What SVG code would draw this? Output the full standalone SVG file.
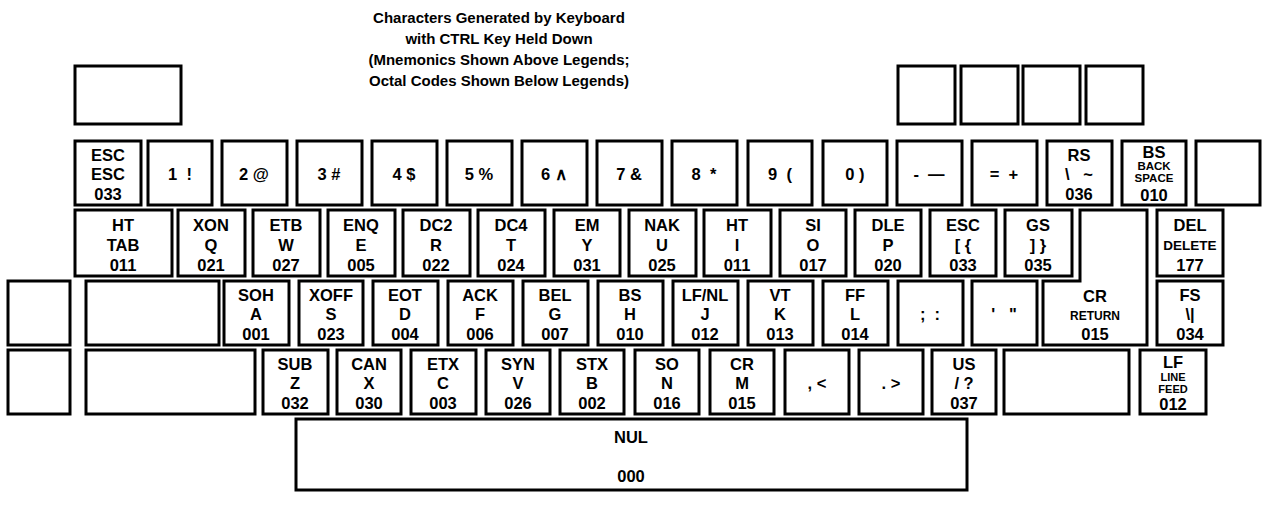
<svg xmlns="http://www.w3.org/2000/svg" width="1267" height="519" viewBox="0 0 1267 519">
<style>
.k{fill:#fff;stroke:#000;stroke-width:3}
.t{font-family:"Liberation Sans",Arial,sans-serif;font-weight:bold;font-size:16.5px;text-anchor:middle;fill:#000;white-space:pre}
.s{font-size:12px}
.b{font-size:11.5px}
.d{font-size:13.5px}
.n{font-size:11px}
.h{font-family:"Liberation Sans",Arial,sans-serif;font-weight:bold;font-size:15px;text-anchor:middle;fill:#000}
</style>
<rect width="1267" height="519" fill="#fff"/>
<g id="title">
<text class="h" x="499" y="23">Characters Generated by Keyboard</text>
<text class="h" x="499" y="44">with CTRL Key Held Down</text>
<text class="h" x="499" y="65">(Mnemonics Shown Above Legends;</text>
<text class="h" x="499" y="86">Octal Codes Shown Below Legends)</text>
</g>
<g id="top-keys">
<rect class="k" x="75" y="66" width="106" height="58"/>
<rect class="k" x="898" y="66" width="57" height="58"/>
<rect class="k" x="961" y="66" width="57" height="58"/>
<rect class="k" x="1023" y="66" width="57" height="58"/>
<rect class="k" x="1086" y="66" width="57" height="58"/>
</g>
<g id="row1">
<g id="k-esc"><rect class="k" x="75" y="141" width="66" height="64"/><text class="t" x="108" y="161">ESC</text><text class="t" x="108" y="180">ESC</text><text class="t" x="108" y="200">033</text></g>
<g id="k-1"><rect class="k" x="148" y="141" width="64" height="64"/><text class="t" x="180" y="180">1  !</text></g>
<g id="k-2"><rect class="k" x="222" y="141" width="65" height="64"/><text class="t" x="254" y="180">2 @</text></g>
<g id="k-3"><rect class="k" x="297" y="141" width="65" height="64"/><text class="t" x="329" y="180">3 #</text></g>
<g id="k-4"><rect class="k" x="372" y="141" width="65" height="64"/><text class="t" x="404" y="180">4 $</text></g>
<g id="k-5"><rect class="k" x="447" y="141" width="65" height="64"/><text class="t" x="479" y="180">5 %</text></g>
<g id="k-6"><rect class="k" x="522" y="141" width="65" height="64"/><text class="t" x="554" y="180">6 ∧</text></g>
<g id="k-7"><rect class="k" x="597" y="141" width="65" height="64"/><text class="t" x="629" y="180">7 &amp;</text></g>
<g id="k-8"><rect class="k" x="672" y="141" width="65" height="64"/><text class="t" x="704" y="180">8  *</text></g>
<g id="k-9"><rect class="k" x="748" y="141" width="64" height="64"/><text class="t" x="780" y="180">9  (</text></g>
<g id="k-0"><rect class="k" x="823" y="141" width="64" height="64"/><text class="t" x="855" y="180">0 )</text></g>
<g id="k-minus"><rect class="k" x="897" y="141" width="65" height="64"/><text class="t" x="929" y="180">-  —</text></g>
<g id="k-eq"><rect class="k" x="972" y="141" width="65" height="64"/><text class="t" x="1004" y="180">=  +</text></g>
<g id="k-rs"><rect class="k" x="1047" y="141" width="65" height="64"/><text class="t" x="1079" y="161">RS</text><text class="t" x="1079" y="180">\   ~</text><text class="t" x="1079" y="200">036</text></g>
<g id="k-bs"><rect class="k" x="1122" y="141" width="64" height="64"/><text class="t" x="1154" y="158">BS</text><text class="t b" x="1154" y="170">BACK</text><text class="t b" x="1154" y="182">SPACE</text><text class="t" x="1154" y="201">010</text></g>
<g id="k-blank1"><rect class="k" x="1196" y="141" width="64" height="64"/></g>
</g>
<g id="row2">
<g id="k-tab"><rect class="k" x="75" y="210" width="97" height="66"/><text class="t" x="123" y="231">HT</text><text class="t" x="123" y="251">TAB</text><text class="t" x="123" y="271">011</text></g>
<g id="k-q"><rect class="k" x="178" y="210" width="67" height="66"/><text class="t" x="211" y="231">XON</text><text class="t" x="211" y="251">Q</text><text class="t" x="211" y="271">021</text></g>
<g id="k-w"><rect class="k" x="253" y="210" width="67" height="66"/><text class="t" x="286" y="231">ETB</text><text class="t" x="286" y="251">W</text><text class="t" x="286" y="271">027</text></g>
<g id="k-e"><rect class="k" x="328" y="210" width="67" height="66"/><text class="t" x="361" y="231">ENQ</text><text class="t" x="361" y="251">E</text><text class="t" x="361" y="271">005</text></g>
<g id="k-r"><rect class="k" x="403" y="210" width="67" height="66"/><text class="t" x="436" y="231">DC2</text><text class="t" x="436" y="251">R</text><text class="t" x="436" y="271">022</text></g>
<g id="k-t"><rect class="k" x="478" y="210" width="67" height="66"/><text class="t" x="511" y="231">DC4</text><text class="t" x="511" y="251">T</text><text class="t" x="511" y="271">024</text></g>
<g id="k-y"><rect class="k" x="554" y="210" width="66" height="66"/><text class="t" x="587" y="231">EM</text><text class="t" x="587" y="251">Y</text><text class="t" x="587" y="271">031</text></g>
<g id="k-u"><rect class="k" x="629" y="210" width="67" height="66"/><text class="t" x="662" y="231">NAK</text><text class="t" x="662" y="251">U</text><text class="t" x="662" y="271">025</text></g>
<g id="k-i"><rect class="k" x="704" y="210" width="67" height="66"/><text class="t" x="737" y="231">HT</text><text class="t" x="737" y="251">I</text><text class="t" x="737" y="271">011</text></g>
<g id="k-o"><rect class="k" x="780" y="210" width="66" height="66"/><text class="t" x="813" y="231">SI</text><text class="t" x="813" y="251">O</text><text class="t" x="813" y="271">017</text></g>
<g id="k-p"><rect class="k" x="855" y="210" width="66" height="66"/><text class="t" x="888" y="231">DLE</text><text class="t" x="888" y="251">P</text><text class="t" x="888" y="271">020</text></g>
<g id="k-lbr"><rect class="k" x="930" y="210" width="66" height="66"/><text class="t" x="963" y="231">ESC</text><text class="t" x="963" y="251">[ {</text><text class="t" x="963" y="271">033</text></g>
<g id="k-rbr"><rect class="k" x="1005" y="210" width="67" height="66"/><text class="t" x="1038" y="231">GS</text><text class="t" x="1038" y="251">] }</text><text class="t" x="1038" y="271">035</text></g>
<g id="k-del"><rect class="k" x="1157" y="210" width="66" height="66"/><text class="t" x="1190" y="231">DEL</text><text class="t d" x="1190" y="250">DELETE</text><text class="t" x="1190" y="271">177</text></g>
</g>
<g id="row3">
<g id="k-blank2"><rect class="k" x="8" y="281" width="62" height="64"/></g>
<g id="k-blank3"><rect class="k" x="86" y="281" width="133" height="64"/></g>
<g id="k-a"><rect class="k" x="224" y="281" width="65" height="64"/><text class="t" x="256" y="301">SOH</text><text class="t" x="256" y="320">A</text><text class="t" x="256" y="340">001</text></g>
<g id="k-s"><rect class="k" x="299" y="281" width="64" height="64"/><text class="t" x="331" y="301">XOFF</text><text class="t" x="331" y="320">S</text><text class="t" x="331" y="340">023</text></g>
<g id="k-d"><rect class="k" x="373" y="281" width="65" height="64"/><text class="t" x="405" y="301">EOT</text><text class="t" x="405" y="320">D</text><text class="t" x="405" y="340">004</text></g>
<g id="k-f"><rect class="k" x="448" y="281" width="65" height="64"/><text class="t" x="480" y="301">ACK</text><text class="t" x="480" y="320">F</text><text class="t" x="480" y="340">006</text></g>
<g id="k-g"><rect class="k" x="523" y="281" width="65" height="64"/><text class="t" x="555" y="301">BEL</text><text class="t" x="555" y="320">G</text><text class="t" x="555" y="340">007</text></g>
<g id="k-h"><rect class="k" x="598" y="281" width="65" height="64"/><text class="t" x="630" y="301">BS</text><text class="t" x="630" y="320">H</text><text class="t" x="630" y="340">010</text></g>
<g id="k-j"><rect class="k" x="673" y="281" width="65" height="64"/><text class="t" x="705" y="301">LF/NL</text><text class="t" x="705" y="320">J</text><text class="t" x="705" y="340">012</text></g>
<g id="k-k"><rect class="k" x="748" y="281" width="65" height="64"/><text class="t" x="780" y="301">VT</text><text class="t" x="780" y="320">K</text><text class="t" x="780" y="340">013</text></g>
<g id="k-l"><rect class="k" x="823" y="281" width="65" height="64"/><text class="t" x="855" y="301">FF</text><text class="t" x="855" y="320">L</text><text class="t" x="855" y="340">014</text></g>
<g id="k-semi"><rect class="k" x="898" y="281" width="65" height="64"/><text class="t" x="930" y="320">;  :</text></g>
<g id="k-quote"><rect class="k" x="972" y="281" width="65" height="64"/><text class="t" x="1004" y="320">'   "</text></g>
<g id="k-cr"><path class="k" d="M1080,210 H1147 V345 H1043 V281 H1080 Z"/><text class="t" x="1095" y="302">CR</text><text class="t s" x="1095" y="320">RETURN</text><text class="t" x="1095" y="340">015</text></g>
<g id="k-fs"><rect class="k" x="1157" y="281" width="66" height="64"/><text class="t" x="1190" y="301">FS</text><text class="t" x="1190" y="320">\|</text><text class="t" x="1190" y="340">034</text></g>
</g>
<g id="row4">
<g id="k-blank4"><rect class="k" x="8" y="350" width="62" height="64"/></g>
<g id="k-blank5"><rect class="k" x="86" y="350" width="169" height="64"/></g>
<g id="k-z"><rect class="k" x="263" y="350" width="65" height="64"/><text class="t" x="295" y="370">SUB</text><text class="t" x="295" y="389">Z</text><text class="t" x="295" y="409">032</text></g>
<g id="k-x"><rect class="k" x="337" y="350" width="64" height="64"/><text class="t" x="369" y="370">CAN</text><text class="t" x="369" y="389">X</text><text class="t" x="369" y="409">030</text></g>
<g id="k-c"><rect class="k" x="411" y="350" width="65" height="64"/><text class="t" x="443" y="370">ETX</text><text class="t" x="443" y="389">C</text><text class="t" x="443" y="409">003</text></g>
<g id="k-v"><rect class="k" x="486" y="350" width="64" height="64"/><text class="t" x="518" y="370">SYN</text><text class="t" x="518" y="389">V</text><text class="t" x="518" y="409">026</text></g>
<g id="k-b"><rect class="k" x="560" y="350" width="64" height="64"/><text class="t" x="592" y="370">STX</text><text class="t" x="592" y="389">B</text><text class="t" x="592" y="409">002</text></g>
<g id="k-n"><rect class="k" x="635" y="350" width="64" height="64"/><text class="t" x="667" y="370">SO</text><text class="t" x="667" y="389">N</text><text class="t" x="667" y="409">016</text></g>
<g id="k-m"><rect class="k" x="710" y="350" width="64" height="64"/><text class="t" x="742" y="370">CR</text><text class="t" x="742" y="389">M</text><text class="t" x="742" y="409">015</text></g>
<g id="k-comma"><rect class="k" x="785" y="350" width="64" height="64"/><text class="t" x="817" y="389">, &lt;</text></g>
<g id="k-period"><rect class="k" x="859" y="350" width="64" height="64"/><text class="t" x="891" y="389">. &gt;</text></g>
<g id="k-slash"><rect class="k" x="932" y="350" width="64" height="64"/><text class="t" x="964" y="370">US</text><text class="t" x="964" y="389">/ ?</text><text class="t" x="964" y="409">037</text></g>
<g id="k-blank6"><rect class="k" x="1004" y="350" width="125" height="64"/></g>
<g id="k-lf"><rect class="k" x="1140" y="350" width="66" height="64"/><text class="t" x="1173" y="368">LF</text><text class="t n" x="1173" y="381">LINE</text><text class="t n" x="1173" y="393">FEED</text><text class="t" x="1173" y="410">012</text></g>
</g>
<g id="k-space"><rect class="k" x="296" y="419" width="671" height="71"/><text class="t" x="631" y="443">NUL</text><text class="t" x="631" y="482">000</text></g>
<g id="connectors"/>
</svg>
